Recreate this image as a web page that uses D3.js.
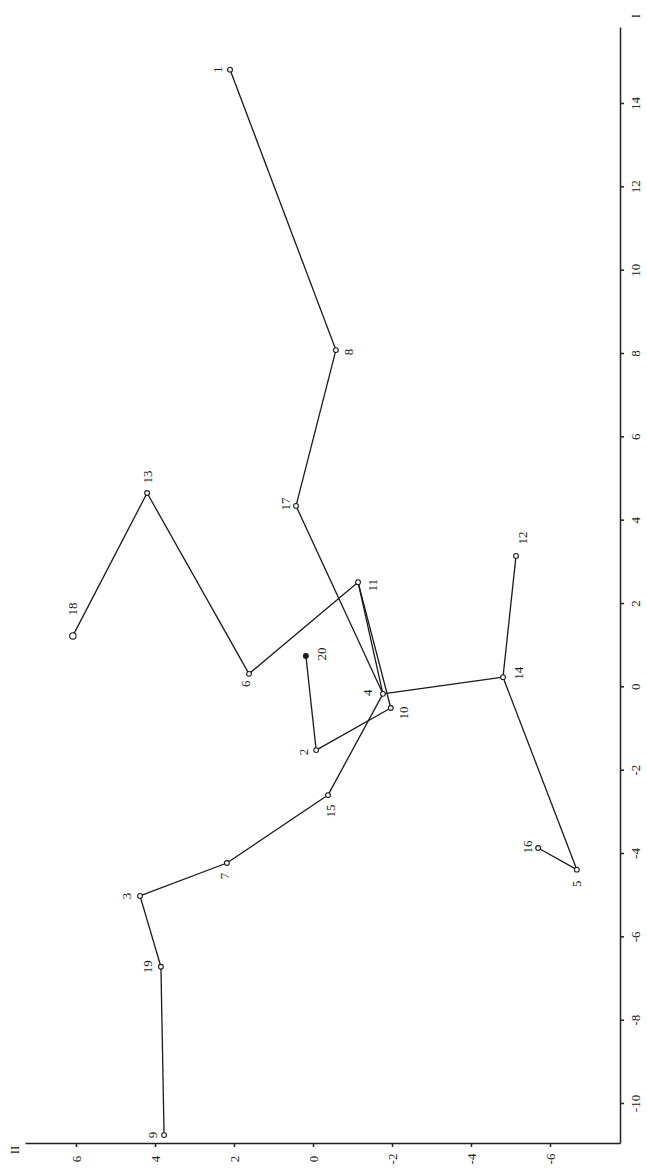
<!DOCTYPE html>
<html>
    <head>
        <meta charset="utf-8">
        <title>Ordination I / II</title>
        <style>
            html {font-family: "Liberation Serif", serif;}
            body {margin: 0; padding: 0; background: #fff; overflow: hidden;}
            svg {display: block;}
            .axis path, .axis line {stroke: #222; stroke-width: 1.5px;}
            .axis text {font-family: "Liberation Serif", serif; font-size: 13px; fill: #222;}
            .edge {stroke: #1a1a1a; stroke-width: 1.3px; fill: none;}
            .pt {stroke: #1a1a1a; stroke-width: 1.1px; fill: #fff;}
            .lbl {font-size: 13px; fill: #1a1a1a;}
        </style>
    </head>
    <body>
        <div id="chart"></div>
        <script src="https://cdn.jsdelivr.net/npm/d3@7"></script>
        <script type="text/javascript">
            // Samples, their scores on axis I and axis II
            var ids    = [1, 2, 3, 4, 5, 6, 7, 8, 9, 10, 11, 12, 13, 14, 15, 16, 17, 18, 19, 20];
            var axisI  = [14.8, -1.53, -5.03, -0.18, -4.4, 0.3, -4.24, 8.07, -10.77, -0.52,
                          2.5, 3.13, 4.64, 0.22, -2.61, -3.88, 4.33, 1.21, -6.73, 0.73];
            var axisII = [2.1, -0.08, 4.38, -1.77, -6.68, 1.62, 2.18, -0.58, 3.77, -1.97,
                          -1.14, -5.14, 4.2, -4.81, -0.38, -5.7, 0.43, 6.08, 3.85, 0.18];

            // Links between samples (by id)
            var links = [[1, 8], [8, 17], [17, 4], [4, 14], [14, 12], [14, 5], [5, 16],
                         [4, 15], [15, 7], [7, 3], [3, 19], [19, 9], [11, 4], [11, 10],
                         [10, 2], [2, 20], [11, 6], [6, 13], [13, 18]];

            var ticksI  = [-10, -8, -6, -4, -2, 0, 2, 4, 6, 8, 10, 12, 14];
            var ticksII = [-6, -4, -2, 0, 2, 4, 6];

            // where each label sits relative to its point (screen px)
            var labelOffset = {
                1: [-13, 0], 2: [-13, 2], 3: [-13, 0], 4: [-15, -1], 5: [0, 14],
                6: [-4, 10], 7: [-2, 13], 8: [13, 2], 9: [-12, 0], 10: [13, 5],
                11: [14, 3], 12: [6, -18], 13: [0, -16], 14: [16, -4], 15: [2, 16],
                16: [-11, -1], 17: [-11, -2], 18: [0, -27], 19: [-13, 0], 20: [16, -2]
            };

            var width = 647, height = 1170;

            var svg = d3.select("#chart").append("svg")
                    .attr("width", width)
                    .attr("height", height);

            // The plot is turned on its side: axis I runs up the right edge,
            // axis II runs along the bottom with positive values to the left.
            var axisX = 620, axisY = 1143;

            var yI = d3.scaleLinear().domain([-10, 14]).range([1103, 103]);
            var xII = d3.scaleLinear().domain([6, -6]).range([76, 550]);

            var yIAxis = yI.copy().domain([yI.invert(axisY), yI.invert(27)]).range([axisY, 27]);
            var xIIAxis = xII.copy().domain([xII.invert(25), xII.invert(axisX)]).range([25, axisX]);

            var gI = svg.append("g")
                    .attr("class", "axis")
                    .attr("transform", "translate(" + axisX + ",0)")
                    .call(d3.axisRight(yIAxis).tickValues(ticksI).tickSize(4).tickSizeOuter(0)
                        .tickFormat(function(d) {return d;}));
            gI.selectAll("text")
                    .attr("x", 0).attr("dy", null)
                    .attr("text-anchor", "middle")
                    .attr("dominant-baseline", "central")
                    .attr("transform", "translate(15,0) rotate(-90)");

            var gII = svg.append("g")
                    .attr("class", "axis")
                    .attr("transform", "translate(0," + axisY + ")")
                    .call(d3.axisBottom(xIIAxis).tickValues(ticksII).tickSize(4).tickSizeOuter(0)
                        .tickFormat(function(d) {return d;}));
            gII.selectAll("text")
                    .attr("y", 0).attr("dy", null)
                    .attr("text-anchor", "middle")
                    .attr("dominant-baseline", "central")
                    .attr("transform", "translate(0,16) rotate(-90)");

            svg.append("text").attr("class", "lbl")
                    .attr("text-anchor", "middle").attr("dominant-baseline", "central")
                    .attr("transform", "translate(635,16) rotate(-90)")
                    .text("I");
            svg.append("text").attr("class", "lbl")
                    .attr("text-anchor", "middle").attr("dominant-baseline", "central")
                    .attr("transform", "translate(14,1150) rotate(-90)")
                    .text("II");

            var points = ids.map(function(id, i) {
                return {id: id, I: axisI[i], II: axisII[i]};
            });
            var byId = {};
            points.forEach(function(p) {byId[p.id] = p;});

            svg.selectAll(".edge")
                    .data(links)
                .enter().append("line")
                    .attr("class", "edge")
                    .attr("x1", function(d) {return xII(byId[d[0]].II);})
                    .attr("y1", function(d) {return yI(byId[d[0]].I);})
                    .attr("x2", function(d) {return xII(byId[d[1]].II);})
                    .attr("y2", function(d) {return yI(byId[d[1]].I);});

            svg.selectAll(".pt")
                    .data(points)
                .enter().append("circle")
                    .attr("class", "pt")
                    .attr("cx", function(d) {return xII(d.II);})
                    .attr("cy", function(d) {return yI(d.I);})
                    .attr("r", function(d) {return d.id == 18 ? 3.2 : 2.4;})
                    .style("fill", function(d) {return d.id == 20 ? "#1a1a1a" : "#fff";});

            svg.selectAll(".ptlbl")
                    .data(points)
                .enter().append("text")
                    .attr("class", "lbl ptlbl")
                    .attr("text-anchor", "middle")
                    .attr("dominant-baseline", "central")
                    .attr("transform", function(d) {
                        var o = labelOffset[d.id];
                        return "translate(" + (xII(d.II) + o[0]) + "," + (yI(d.I) + o[1]) + ") rotate(-90)";
                    })
                    .text(function(d) {return d.id;});
        </script>
    </body>
</html>
